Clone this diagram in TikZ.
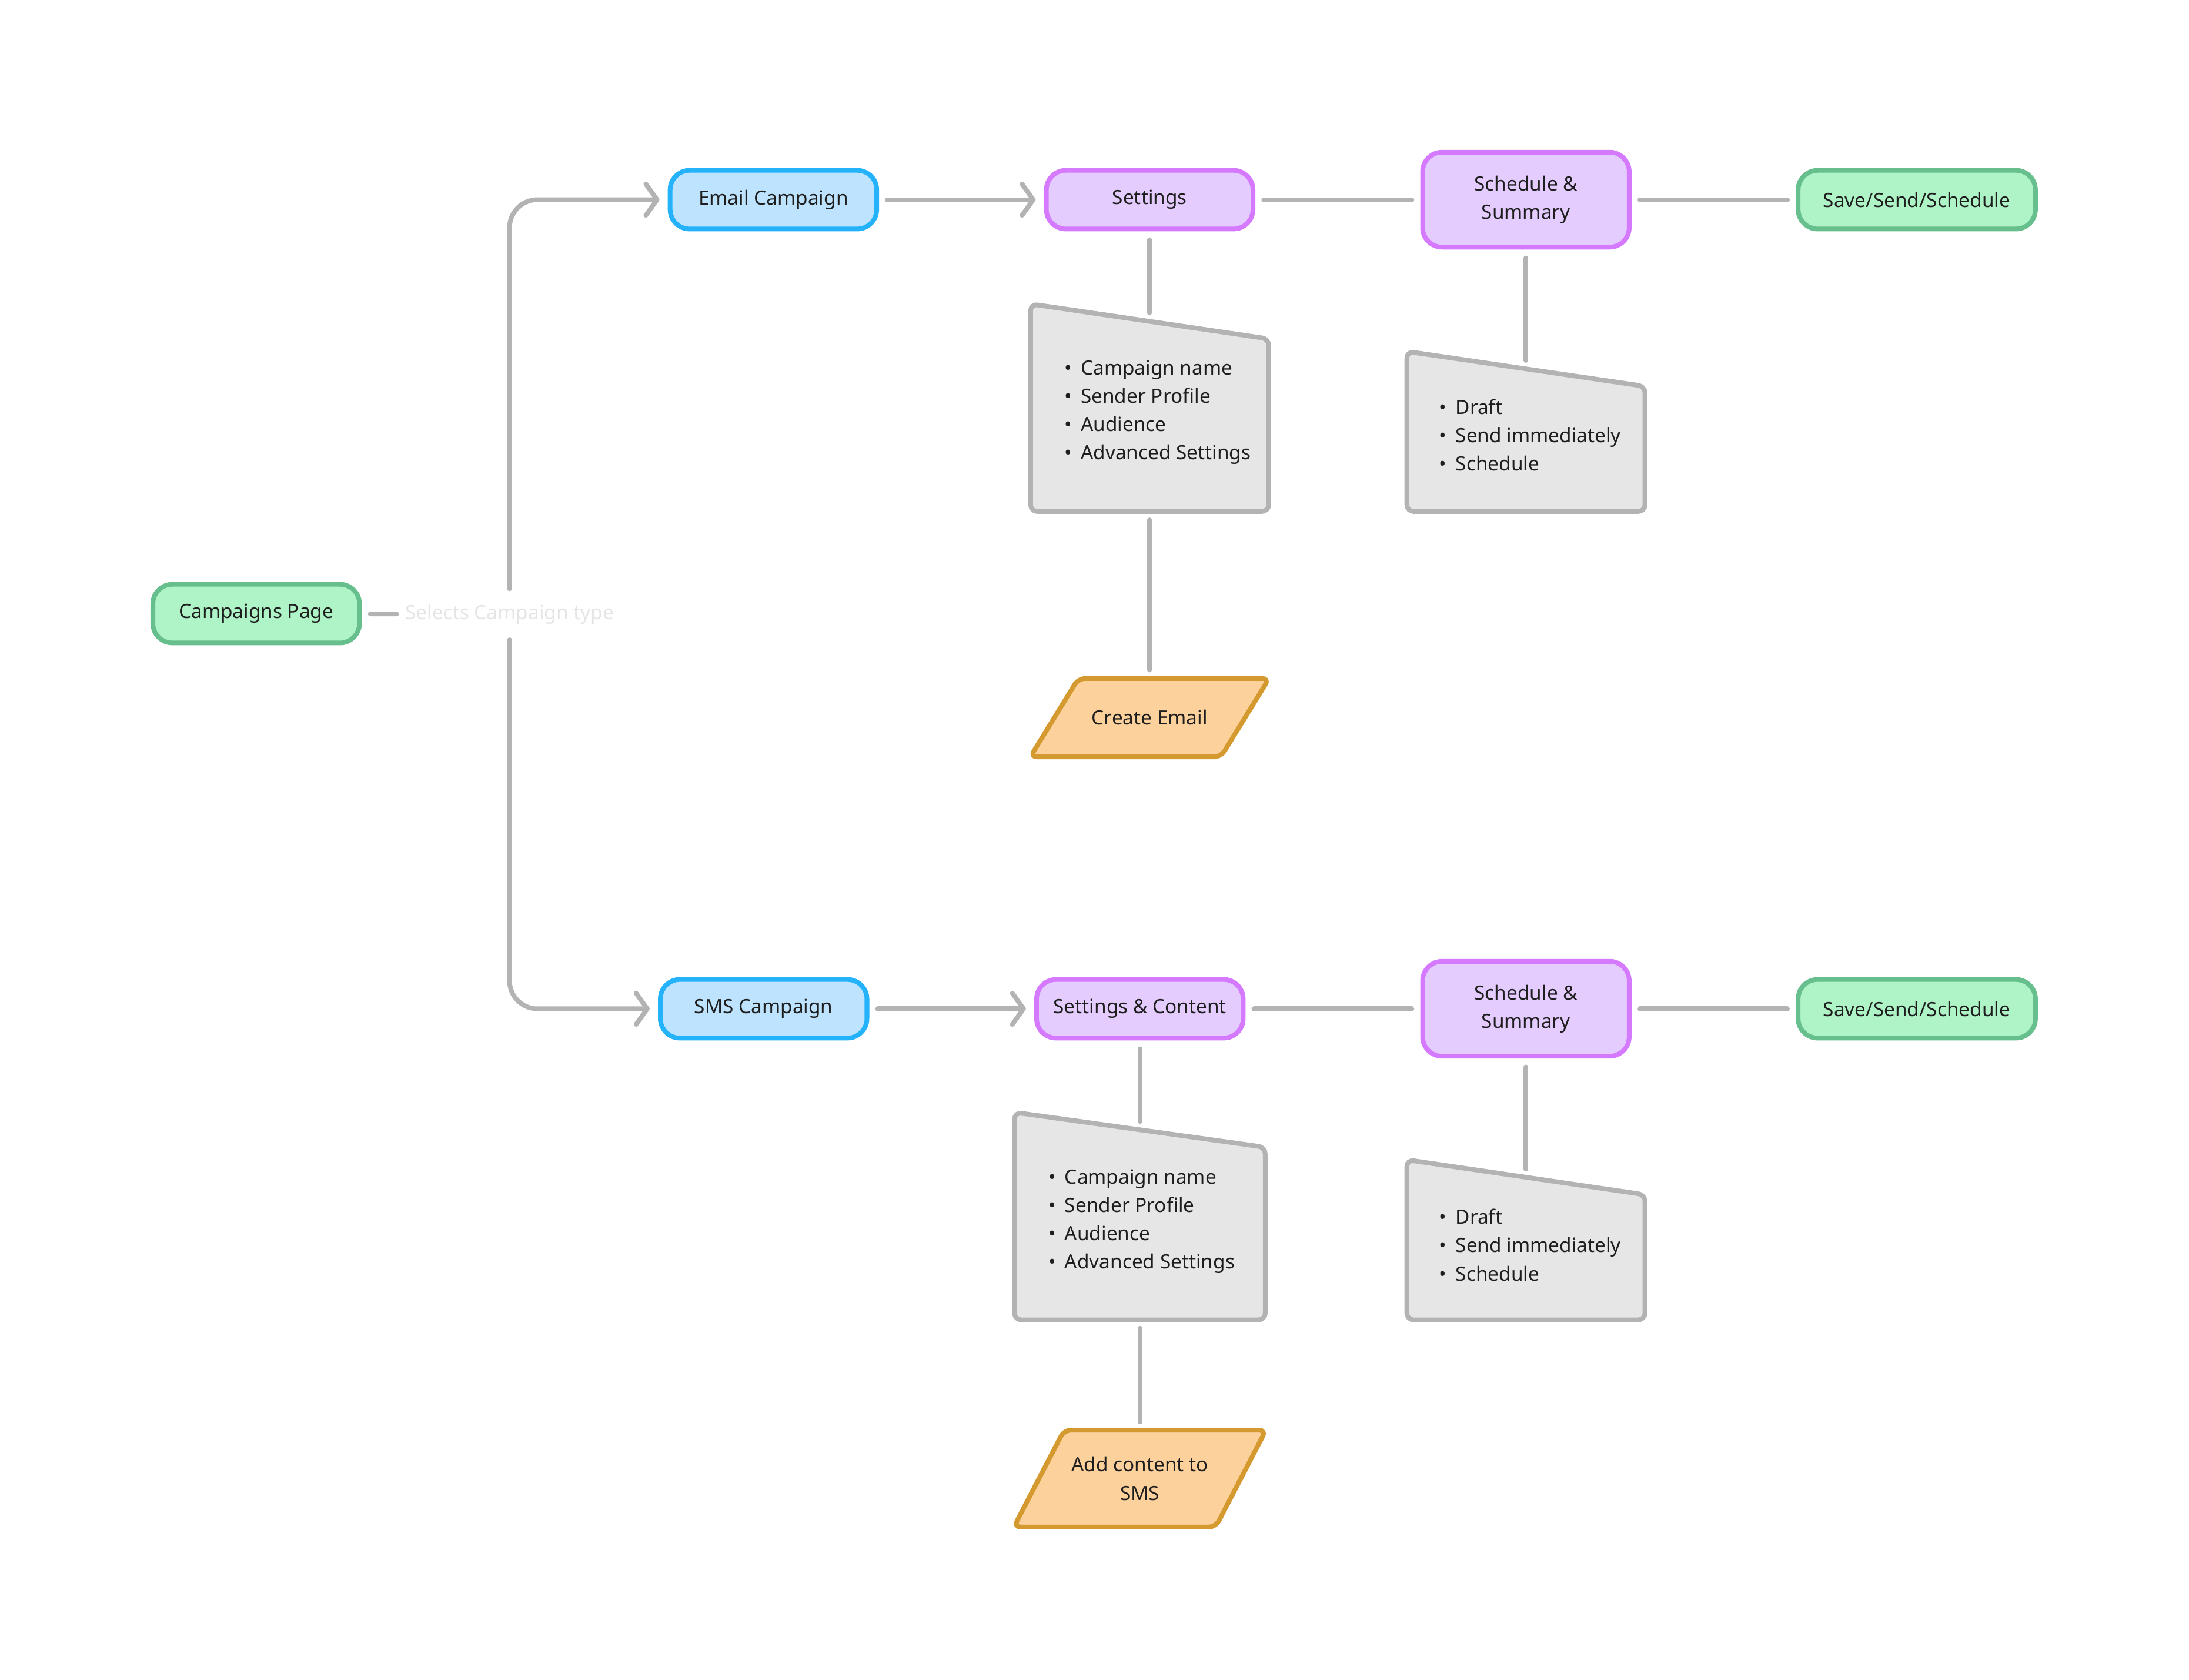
\documentclass[tikz,border=0pt]{standalone}
\usepackage{fontspec}
\setmainfont{Noto Sans}
\usepackage{tikz}
\usetikzlibrary{calc,arrows.meta,backgrounds}
\definecolor{linegray}{HTML}{B3B3B3}
\definecolor{inkcol}{HTML}{1E1E1E}
\definecolor{greenfill}{HTML}{AFF4C6}
\definecolor{greenline}{HTML}{66BF8C}
\definecolor{bluefill}{HTML}{BDE3FF}
\definecolor{blueline}{HTML}{24B3FA}
\definecolor{purplefill}{HTML}{E4CCFF}
\definecolor{purpleline}{HTML}{D57AFF}
\definecolor{orangefill}{HTML}{FCD19C}
\definecolor{orangeline}{HTML}{D49A30}
\definecolor{grayfill}{HTML}{E6E6E6}

\begin{document}
\begin{tikzpicture}[x=2.5cm,y=2.5cm, font=\fontsize{10}{14.4}\selectfont, text=inkcol,
    >={Straight Barb[length=0.2cm,width=0.56cm,round]},
    box/.style={draw, line width=2.4pt, rounded corners=0.35cm, minimum width=3.7cm, minimum height=1.05cm, align=center},
    start/.style={box, fill=greenfill, draw=greenline},
    campaign/.style={box, fill=bluefill, draw=blueline},
    stepbox/.style={box, fill=purplefill, draw=purpleline},
    tall/.style={minimum height=1.7cm},
    doc/.style={inner sep=0pt, minimum width=4.25cm},
    docshape/.style={draw=linegray, fill=grayfill, line width=2.4pt, rounded corners=0.12cm},
    inputshape/.style={draw=orangeline, fill=orangefill, line width=2.4pt, rounded corners=0.12cm},
    list/.style={anchor=west, align=left, inner sep=0pt},
    link/.style={draw=linegray, line width=2.4pt, line cap=round, shorten <=0.15cm, shorten >=0.15cm}]
    \useasboundingbox (0,0) rectangle (15.68,-12.03);
    \node[start] (camp) at (1.835,-4.395) {Campaigns Page};
    \node[inner sep=0pt, minimum height=0.9cm, text=black!10] (select) at (3.65,-4.40) {Selects Campaign type};
    \node[campaign] (email) at (5.54,-1.43) {Email Campaign};
    \node[stepbox] (emailset) at (8.235,-1.43) {Settings};
    \node[stepbox, tall] (emailsched) at (10.93,-1.43) {Schedule \&\\Summary};
    \node[start, minimum width=4.25cm] (emailsave) at (13.73,-1.43) {Save/Send/Schedule};
    \node[campaign] (sms) at (5.47,-7.225) {SMS Campaign};
    \node[stepbox] (smsset) at (8.165,-7.225) {Settings \& Content};
    \node[stepbox, tall] (smssched) at (10.93,-7.225) {Schedule \&\\Summary};
    \node[start, minimum width=4.25cm] (smssave) at (13.73,-7.225) {Save/Send/Schedule};
    \node[doc, minimum height=3.39cm] (emaildoc) at (8.235,-2.9825) {};
    \node[list] (emaildoclist) at ($(emaildoc.west)+(0.24,0.03)$) {\textbullet\hspace{0.16cm}Campaign name\\\textbullet\hspace{0.16cm}Sender Profile\\\textbullet\hspace{0.16cm}Audience\\\textbullet\hspace{0.16cm}Advanced Settings};
    \node[doc, minimum height=2.54cm] (emailscheddoc) at (10.93,-3.1525) {};
    \node[list] (emailscheddoclist) at ($(emailscheddoc.west)+(0.23,0.035)$) {\textbullet\hspace{0.16cm}Draft\\\textbullet\hspace{0.16cm}Send immediately\\\textbullet\hspace{0.16cm}Schedule};
    \node[doc, minimum width=4.475cm, minimum height=3.39cm] (smsdoc) at (8.165,-8.7725) {};
    \node[list] (smsdoclist) at ($(smsdoc.west)+(0.24,0.025)$) {\textbullet\hspace{0.16cm}Campaign name\\\textbullet\hspace{0.16cm}Sender Profile\\\textbullet\hspace{0.16cm}Audience\\\textbullet\hspace{0.16cm}Advanced Settings};
    \node[doc, minimum height=2.54cm] (smsscheddoc) at (10.93,-8.9425) {};
    \node[list] (smsscheddoclist) at ($(smsscheddoc.west)+(0.23,0.025)$) {\textbullet\hspace{0.16cm}Draft\\\textbullet\hspace{0.16cm}Send immediately\\\textbullet\hspace{0.16cm}Schedule};
    \node[inner sep=0pt, minimum width=3.4cm, minimum height=1.39cm] (mailinput) at (8.235,-5.14) {Create Email};
    \node[inner sep=0pt, minimum width=3.6cm, minimum height=1.72cm, align=center] (smsinput) at (8.165,-10.59) {Add content to\\SMS};
    \begin{scope}[on background layer]
        \foreach \n in {emaildoc,emailscheddoc,smsdoc,smsscheddoc}
            \draw[docshape] ($(\n.north west)+(0,0.125)$) -- ($(\n.north east)+(0,-0.125)$) -- (\n.south east) -- (\n.south west) -- cycle;
        \foreach \n/\s in {mailinput/0.1725,smsinput/0.18}
            \draw[inputshape] ($(\n.north west)+(\s,0)$) -- ($(\n.north east)+(\s,0)$) -- ($(\n.south east)-(\s,0)$) -- ($(\n.south west)-(\s,0)$) -- cycle;
    \end{scope}
    \draw[link] (camp) -- (select);
    \draw[link, ->, shorten <=0pt, rounded corners=0.5cm] (select.north) |- (email.west);
    \draw[link, ->, shorten <=0pt, rounded corners=0.5cm] (select.south) |- (sms.west);
    \draw[link, ->] (email) -- (emailset);
    \draw[link] (emailset) -- (emailsched);
    \draw[link] (emailsched) -- (emailsave);
    \draw[link] (emailset) -- (emaildoc.north);
    \draw[link] (emaildoc.south) -- (mailinput.north);
    \draw[link] (emailsched) -- (emailscheddoc.north);
    \draw[link, ->] (sms) -- (smsset);
    \draw[link] (smsset) -- (smssched);
    \draw[link] (smssched) -- (smssave);
    \draw[link] (smsset) -- (smsdoc.north);
    \draw[link] (smsdoc.south) -- (smsinput.north);
    \draw[link] (smssched) -- (smsscheddoc.north);
\end{tikzpicture}
\end{document}
